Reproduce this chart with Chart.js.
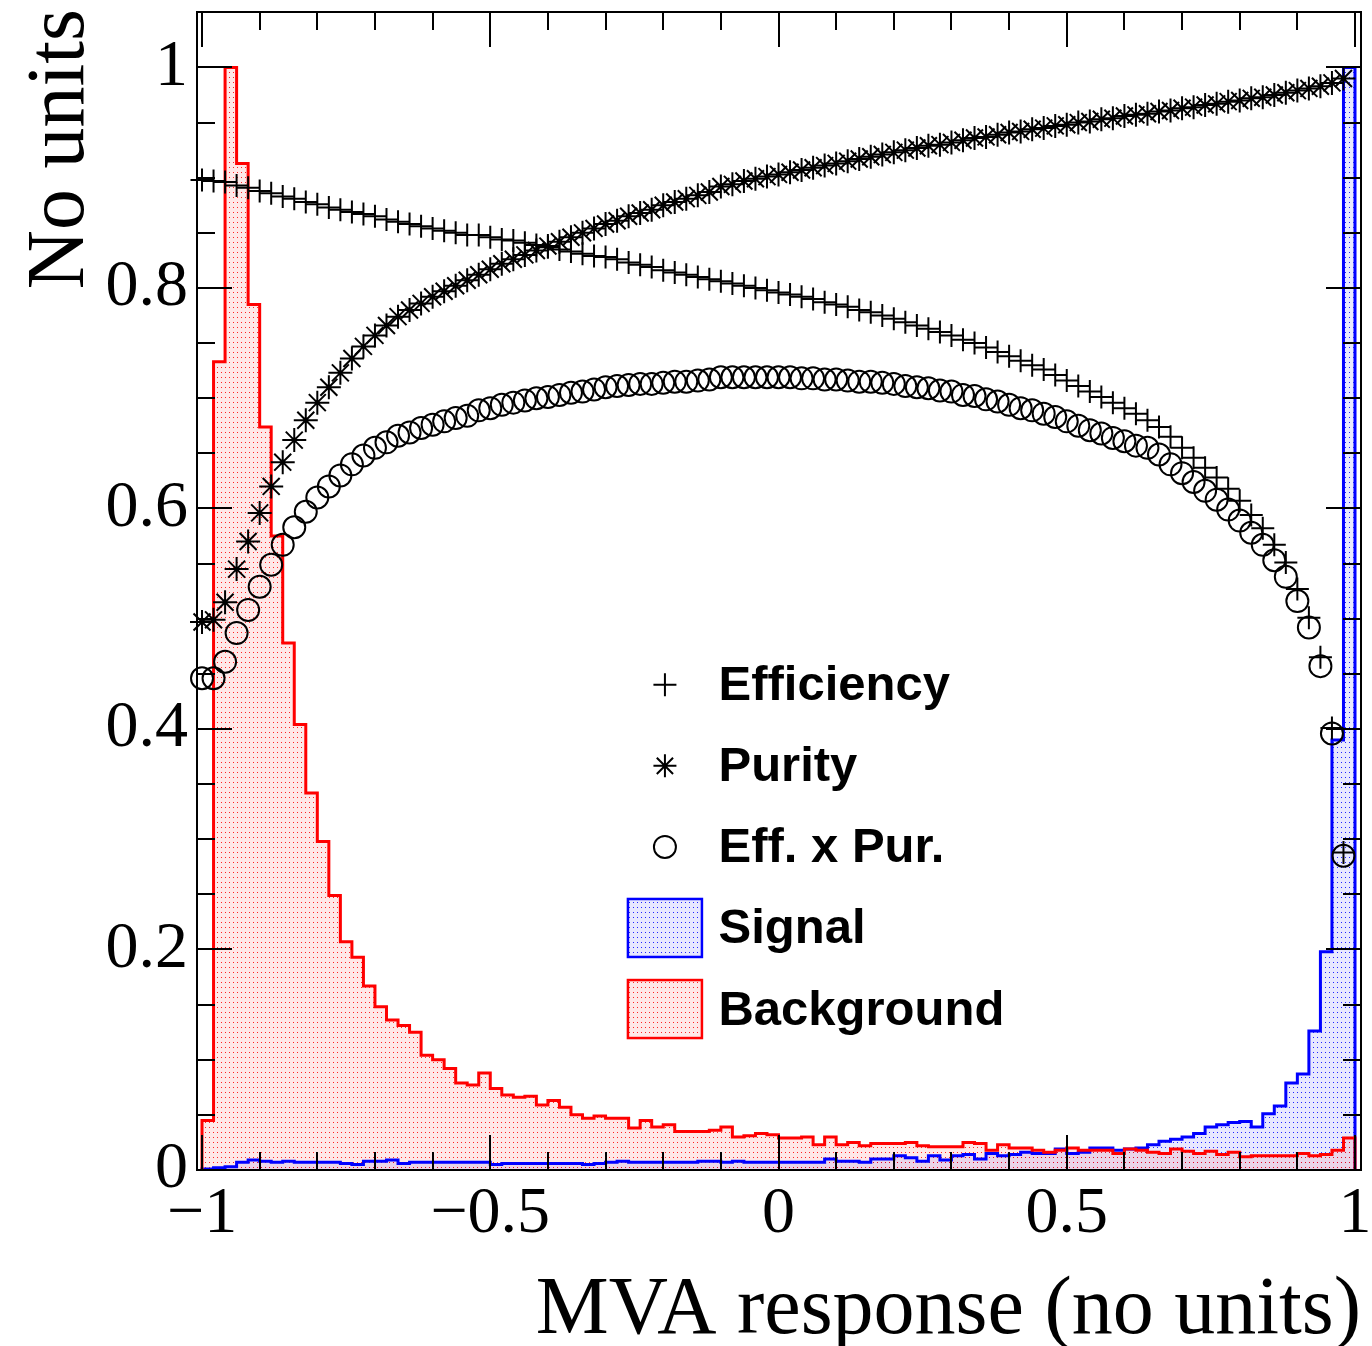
<!DOCTYPE html>
<html>
<head>
<meta charset="utf-8">
<title>MVA response</title>
<script src="https://cdn.jsdelivr.net/npm/chart.js@4.4.1/dist/chart.umd.min.js"></script>
<style>
  html, body { margin: 0; padding: 0; background: #fff; }
</style>
</head>
<body>
<canvas id="mva" width="1372" height="1346"></canvas>
<script>
// binning of the response histograms
var xLow = -1;
var binWidth = 0.02;

// background (red) and signal (blue), normalised to their maximum
var bkgHist = [
  0.045, 0.733, 1.000, 0.913, 0.785, 0.674, 0.575, 0.478, 0.404, 0.342,
  0.298, 0.249, 0.207, 0.193, 0.167, 0.148, 0.136, 0.131, 0.125, 0.104,
  0.100, 0.092, 0.079, 0.077, 0.088, 0.074, 0.068, 0.066, 0.067, 0.059,
  0.063, 0.057, 0.050, 0.047, 0.049, 0.047, 0.047, 0.038, 0.045, 0.039,
  0.041, 0.035, 0.035, 0.035, 0.036, 0.039, 0.030, 0.031, 0.033, 0.032,
  0.029, 0.029, 0.030, 0.023, 0.030, 0.023, 0.025, 0.022, 0.024, 0.024,
  0.024, 0.025, 0.022, 0.021, 0.021, 0.021, 0.025, 0.024, 0.018, 0.023,
  0.020, 0.020, 0.018, 0.016, 0.018, 0.020, 0.018, 0.018, 0.018, 0.015,
  0.019, 0.018, 0.016, 0.015, 0.019, 0.017, 0.015, 0.017, 0.014, 0.016,
  0.012, 0.013, 0.013, 0.013, 0.013, 0.015, 0.013, 0.014, 0.018, 0.029
];
var sigHist = [
  0.001, 0.002, 0.003, 0.007, 0.009, 0.008, 0.007, 0.008, 0.007, 0.007,
  0.007, 0.007, 0.006, 0.005, 0.008, 0.008, 0.009, 0.006, 0.007, 0.007,
  0.007, 0.007, 0.007, 0.007, 0.007, 0.005, 0.006, 0.006, 0.006, 0.006,
  0.006, 0.006, 0.006, 0.005, 0.006, 0.007, 0.008, 0.007, 0.007, 0.007,
  0.007, 0.007, 0.007, 0.008, 0.008, 0.007, 0.008, 0.007, 0.007, 0.007,
  0.007, 0.007, 0.007, 0.007, 0.010, 0.008, 0.008, 0.007, 0.010, 0.010,
  0.013, 0.011, 0.008, 0.013, 0.009, 0.013, 0.014, 0.010, 0.015, 0.013,
  0.014, 0.016, 0.015, 0.015, 0.019, 0.015, 0.016, 0.020, 0.020, 0.018,
  0.019, 0.020, 0.023, 0.026, 0.028, 0.030, 0.033, 0.039, 0.041, 0.043,
  0.044, 0.039, 0.051, 0.058, 0.079, 0.087, 0.126, 0.198, 0.390, 1.000
];

// cut efficiency curves, one point per bin edge
var efficiency = [
  0.898, 0.897, 0.896, 0.893, 0.891, 0.888, 0.886, 0.883, 0.881, 0.878,
  0.876, 0.873, 0.871, 0.869, 0.867, 0.865, 0.862, 0.860, 0.858, 0.856,
  0.854, 0.852, 0.850, 0.848, 0.848, 0.846, 0.844, 0.843, 0.841, 0.839,
  0.837, 0.835, 0.833, 0.831, 0.829, 0.828, 0.826, 0.823, 0.821, 0.819,
  0.816, 0.814, 0.812, 0.810, 0.808, 0.806, 0.804, 0.802, 0.800, 0.798,
  0.796, 0.794, 0.792, 0.790, 0.787, 0.785, 0.783, 0.780, 0.778, 0.775,
  0.772, 0.769, 0.766, 0.763, 0.760, 0.757, 0.753, 0.750, 0.746, 0.742,
  0.738, 0.734, 0.730, 0.726, 0.721, 0.716, 0.711, 0.706, 0.701, 0.696,
  0.691, 0.686, 0.680, 0.674, 0.665, 0.655, 0.646, 0.637, 0.628, 0.618,
  0.607, 0.594, 0.582, 0.567, 0.551, 0.527, 0.501, 0.465, 0.401, 0.288
];
var purity = [
  0.497, 0.499, 0.515, 0.545, 0.570, 0.596, 0.620, 0.642, 0.662, 0.680,
  0.696, 0.710, 0.723, 0.736, 0.747, 0.757, 0.766, 0.774, 0.780, 0.786,
  0.792, 0.797, 0.802, 0.807, 0.812, 0.817, 0.822, 0.826, 0.830, 0.834,
  0.838, 0.842, 0.846, 0.850, 0.854, 0.858, 0.861, 0.865, 0.868, 0.871,
  0.875, 0.878, 0.881, 0.884, 0.887, 0.892, 0.894, 0.897, 0.899, 0.901,
  0.903, 0.905, 0.907, 0.909, 0.911, 0.913, 0.915, 0.917, 0.919, 0.921,
  0.923, 0.925, 0.927, 0.929, 0.930, 0.932, 0.934, 0.936, 0.937, 0.939,
  0.941, 0.942, 0.944, 0.945, 0.947, 0.948, 0.950, 0.951, 0.953, 0.954,
  0.956, 0.957, 0.958, 0.960, 0.961, 0.963, 0.964, 0.966, 0.967, 0.969,
  0.970, 0.972, 0.973, 0.975, 0.977, 0.979, 0.981, 0.983, 0.986, 0.990
];
var effTimesPur = [
  0.446, 0.446, 0.461, 0.487, 0.508, 0.529, 0.549, 0.567, 0.583, 0.597,
  0.610, 0.620, 0.630, 0.640, 0.648, 0.655, 0.660, 0.666, 0.669, 0.673,
  0.676, 0.679, 0.682, 0.684, 0.689, 0.691, 0.694, 0.696, 0.698, 0.700,
  0.701, 0.703, 0.705, 0.706, 0.708, 0.710, 0.711, 0.712, 0.713, 0.713,
  0.714, 0.715, 0.715, 0.716, 0.717, 0.719, 0.719, 0.719, 0.719, 0.719,
  0.719, 0.719, 0.718, 0.718, 0.717, 0.717, 0.716, 0.715, 0.715, 0.714,
  0.713, 0.711, 0.710, 0.709, 0.707, 0.706, 0.703, 0.702, 0.699, 0.697,
  0.694, 0.691, 0.689, 0.686, 0.683, 0.679, 0.675, 0.671, 0.668, 0.664,
  0.661, 0.657, 0.655, 0.649, 0.640, 0.632, 0.624, 0.616, 0.608, 0.599,
  0.589, 0.578, 0.567, 0.553, 0.538, 0.516, 0.492, 0.457, 0.396, 0.285
];

// axis ticks and their labels
var xTicks = [-1, -0.5, 0, 0.5, 1];
var xTickLabels = ['\u22121', '\u22120.5', '0', '0.5', '1'];
var yTicks = [0, 0.2, 0.4, 0.6, 0.8, 1];
var yTickLabels = ['0', '0.2', '0.4', '0.6', '0.8', '1'];

// histogram outline: rise at the first edge, fall at the last one
function histPoints(vals) {
  var pts = [{ x: xLow, y: 0 }];
  for (var i = 0; i < vals.length; i++) {
    pts.push({ x: xLow + i * binWidth, y: vals[i] });
  }
  var xEnd = xLow + vals.length * binWidth;
  pts.push({ x: xEnd, y: vals[vals.length - 1] });
  pts.push({ x: xEnd, y: 0 });
  return pts;
}

function curvePoints(vals) {
  return vals.map(function(v, i) { return { x: xLow + i * binWidth, y: v }; });
}

// dotted fill like the ROOT hatch style, on a faint tint of the same colour
function dotPattern(rgb) {
  var c = document.createElement('canvas');
  c.width = 4; c.height = 5;
  var g = c.getContext('2d');
  g.fillStyle = 'rgba(' + rgb + ',0.09)';
  g.fillRect(0, 0, 4, 5);
  g.fillStyle = 'rgba(' + rgb + ',0.85)';
  g.fillRect(1, 2, 1, 1);
  return g.createPattern(c, 'repeat');
}

var sigFill = dotPattern('0,0,255');
var bkgFill = dotPattern('255,0,0');

var markerStyle = {
  showLine: false,
  pointBorderColor: '#000',
  pointBackgroundColor: 'rgba(0,0,0,0)',
  pointBorderWidth: 2,
  clip: false
};

var serif = 'Liberation Serif, Times New Roman, serif';
var sans = 'Liberation Sans, Arial, Helvetica, sans-serif';

function drawMarker(ctx, style, x, y, r) {
  ctx.beginPath();
  if (style === 'circle') {
    ctx.arc(x, y, r, 0, Math.PI * 2);
  } else {
    ctx.moveTo(x - r, y); ctx.lineTo(x + r, y);
    ctx.moveTo(x, y - r); ctx.lineTo(x, y + r);
    if (style === 'star') {
      var d = r * Math.SQRT1_2;
      ctx.moveTo(x - d, y - d); ctx.lineTo(x + d, y + d);
      ctx.moveTo(x - d, y + d); ctx.lineTo(x + d, y - d);
    }
  }
  ctx.stroke();
}

// frame with inward ticks on all four sides, axis titles and the legend
var rootFrame = {
  id: 'rootFrame',
  afterDraw: function(chart) {
    var ctx = chart.ctx, a = chart.chartArea;
    var xs = chart.scales.x, ys = chart.scales.y;
    ctx.save();
    ctx.strokeStyle = '#000';
    ctx.lineWidth = 2;
    ctx.strokeRect(a.left, a.top, a.right - a.left, a.bottom - a.top);

    ctx.beginPath();
    for (var k = -10; k <= 10; k++) {
      var px = Math.round(xs.getPixelForValue(k / 10));
      var len = (k % 5 === 0) ? 35 : 18;
      ctx.moveTo(px, a.bottom); ctx.lineTo(px, a.bottom - len);
      ctx.moveTo(px, a.top); ctx.lineTo(px, a.top + len);
    }
    for (var j = 0; j <= 20; j++) {
      var py = Math.round(ys.getPixelForValue(j * 0.05));
      var ylen = (j % 4 === 0) ? 35 : 18;
      ctx.moveTo(a.left, py); ctx.lineTo(a.left + ylen, py);
      ctx.moveTo(a.right, py); ctx.lineTo(a.right - ylen, py);
    }
    ctx.stroke();

    // axis titles, right / top aligned as ROOT does
    ctx.fillStyle = '#000';
    ctx.font = '82px ' + serif;
    ctx.textAlign = 'right';
    ctx.textBaseline = 'alphabetic';
    ctx.fillText('MVA response (no units)', a.right, 1333);
    ctx.translate(83, 9);
    ctx.rotate(-Math.PI / 2);
    ctx.fillText('No units', 0, 0);
    ctx.restore();

    // legend
    var w = a.right - a.left, h = a.bottom - a.top;
    var mx = a.left + 0.402 * w;
    var tx = a.left + 0.448 * w;
    var y0 = a.top + 0.581 * h;
    var step = 0.07 * h;
    var entries = [
      { ds: 2, kind: 'cross' },
      { ds: 1, kind: 'star' },
      { ds: 0, kind: 'circle' },
      { ds: 3, kind: 'box' },
      { ds: 4, kind: 'box' }
    ];
    ctx.save();
    entries.forEach(function(e, i) {
      var ds = chart.data.datasets[e.ds];
      var cy = y0 + i * step;
      ctx.strokeStyle = '#000';
      ctx.lineWidth = 2;
      if (e.kind === 'box') {
        ctx.fillStyle = ds.backgroundColor;
        ctx.fillRect(mx - 37, cy - 29, 74, 58);
        ctx.strokeStyle = ds.borderColor;
        ctx.lineWidth = 2.5;
        ctx.strokeRect(mx - 37, cy - 29, 74, 58);
      } else {
        drawMarker(ctx, e.kind, mx, cy, e.kind === 'circle' ? 11 : 11.5);
      }
      ctx.fillStyle = '#000';
      ctx.font = 'bold 49px ' + sans;
      ctx.textAlign = 'left';
      ctx.textBaseline = 'middle';
      ctx.fillText(ds.label, tx, cy + 2);
    });
    ctx.restore();
  }
};

new Chart(document.getElementById('mva'), {
  type: 'line',
  data: {
    datasets: [
      Object.assign({ label: 'Eff. x Pur.', data: curvePoints(effTimesPur),
        pointStyle: 'circle', pointRadius: 11, order: 0 }, markerStyle),
      Object.assign({ label: 'Purity', data: curvePoints(purity),
        pointStyle: 'star', pointRadius: 12, order: 1 }, markerStyle),
      Object.assign({ label: 'Efficiency', data: curvePoints(efficiency),
        pointStyle: 'cross', pointRadius: 11.5, order: 2 }, markerStyle),
      {
        label: 'Signal', data: histPoints(sigHist), stepped: true,
        borderColor: '#0000ff', borderWidth: 3, backgroundColor: sigFill,
        fill: 'origin', pointRadius: 0, order: 4
      },
      {
        label: 'Background', data: histPoints(bkgHist), stepped: true,
        borderColor: '#ff0000', borderWidth: 3, backgroundColor: bkgFill,
        fill: 'origin', pointRadius: 0, order: 3
      }
    ]
  },
  options: {
    responsive: false,
    animation: false,
    devicePixelRatio: 1,
    events: [],
    layout: { autoPadding: false, padding: { top: 12, right: 11, bottom: 0, left: 0 } },
    plugins: {
      legend: { display: false },
      tooltip: { enabled: false },
      filler: { drawTime: 'beforeDatasetsDraw' }
    },
    scales: {
      x: {
        type: 'linear', min: -1.0087, max: 1.0104,
        grid: { display: false, drawTicks: false },
        border: { display: false },
        ticks: {
          color: '#000', padding: 5, maxRotation: 0, autoSkip: false,
          font: { family: serif, size: 66, lineHeight: 1.2 },
          callback: function(v) { return xTickLabels[xTicks.indexOf(v)]; }
        },
        afterBuildTicks: function(s) { s.ticks = xTicks.map(function(v) { return { value: v }; }); },
        afterFit: function(s) { s.height = 176; s.paddingLeft = 0; s.paddingRight = 0; }
      },
      y: {
        type: 'linear', min: 0, max: 1.0503,
        grid: { display: false, drawTicks: false },
        border: { display: false },
        ticks: {
          color: '#000', padding: 9,
          font: { family: serif, size: 66, lineHeight: 1.2 },
          callback: function(v) { return yTickLabels[yTicks.indexOf(v)]; }
        },
        afterBuildTicks: function(s) { s.ticks = yTicks.map(function(v) { return { value: v }; }); },
        afterFit: function(s) { s.width = 197; s.paddingTop = 0; s.paddingBottom = 0; }
      }
    }
  },
  plugins: [rootFrame]
});
</script>
</body>
</html>
